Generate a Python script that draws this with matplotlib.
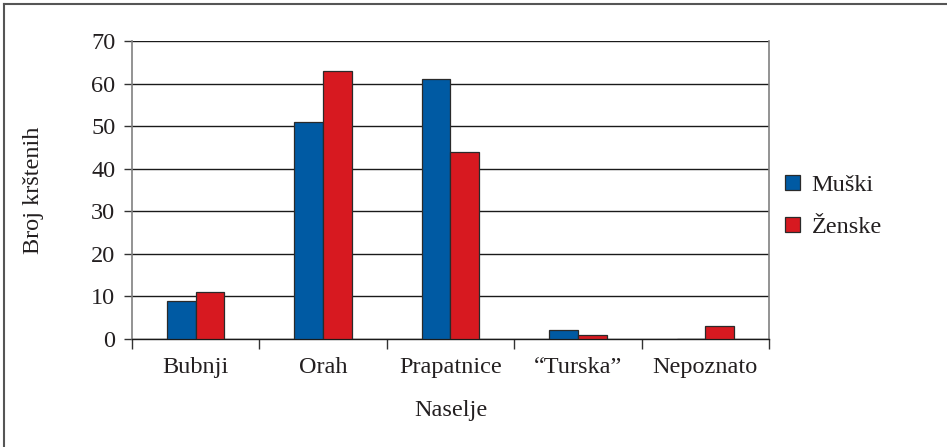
import numpy as np
import matplotlib
matplotlib.use("Agg")
import matplotlib.pyplot as plt

# Broj krštenih po naselju
naselja = ["Bubnji", "Orah", "Prapatnice", "\u201cTurska\u201d", "Nepoznato"]
muski = [9, 51, 61, 2, 0]
zenske = [11, 63, 44, 1, 3]
y_ticks = [0, 10, 20, 30, 40, 50, 60, 70]

plt.rcParams["font.family"] = ["Liberation Serif", "DejaVu Serif"]
plt.rcParams["font.size"] = 17.5
txt = "#231f20"

fig = plt.figure(figsize=(9.47, 4.47), dpi=100)
ax = fig.add_axes([0.1394, 0.2416, 0.6726, 0.6667])

x = np.arange(len(naselja))
w = 0.225
ax.bar(x - w / 2, muski, w, color="#005aa3", edgecolor="#2a2a2a", linewidth=0.9,
       label="Muški", zorder=3)
ax.bar(x + w / 2, zenske, w, color="#d71920", edgecolor="#2a2a2a", linewidth=0.9,
       label="Ženske", zorder=3)

ax.set_xlim(-0.5, len(naselja) - 0.5)
ax.set_ylim(0, 70)
ax.set_yticks(y_ticks)
ax.yaxis.grid(True, color="#1a1a1a", linewidth=1.0, zorder=0)
ax.set_axisbelow(True)

ax.set_xticks(x)
ax.set_xticklabels(naselja, color=txt)
ax.set_xticks(np.arange(-0.5, len(naselja)), minor=True)
ax.tick_params(axis="x", which="major", length=0, pad=13)
ax.tick_params(axis="x", which="minor", length=7, width=1, color="#333333", direction="out")
ax.tick_params(axis="y", length=6, width=1, color="#333333", labelcolor=txt, pad=6)

for s in ["left", "right"]:
    ax.spines[s].set_color("#808080")
    ax.spines[s].set_linewidth(1.2)
ax.spines["top"].set_visible(False)
ax.spines["bottom"].set_color("#1a1a1a")
ax.spines["bottom"].set_linewidth(1.0)

ax.set_xlabel("Naselje", color=txt, labelpad=16)
ax.set_ylabel("Broj krštenih", color=txt, labelpad=34)

ax.legend(loc="center left", bbox_to_anchor=(1.006, 0.445), frameon=False,
          borderpad=0, handlelength=0.6, handleheight=0.6, handletextpad=0.5,
          labelspacing=0.85, labelcolor=txt)

# okvir slike (samo gore i lijevo)
fig.add_artist(plt.Line2D([4 / 947, 1], [1 - 4 / 447] * 2, transform=fig.transFigure,
                          color="#555555", linewidth=1.5))
fig.add_artist(plt.Line2D([4 / 947] * 2, [0, 1 - 4 / 447], transform=fig.transFigure,
                          color="#555555", linewidth=1.5))

fig.savefig("out.png", dpi=100)
